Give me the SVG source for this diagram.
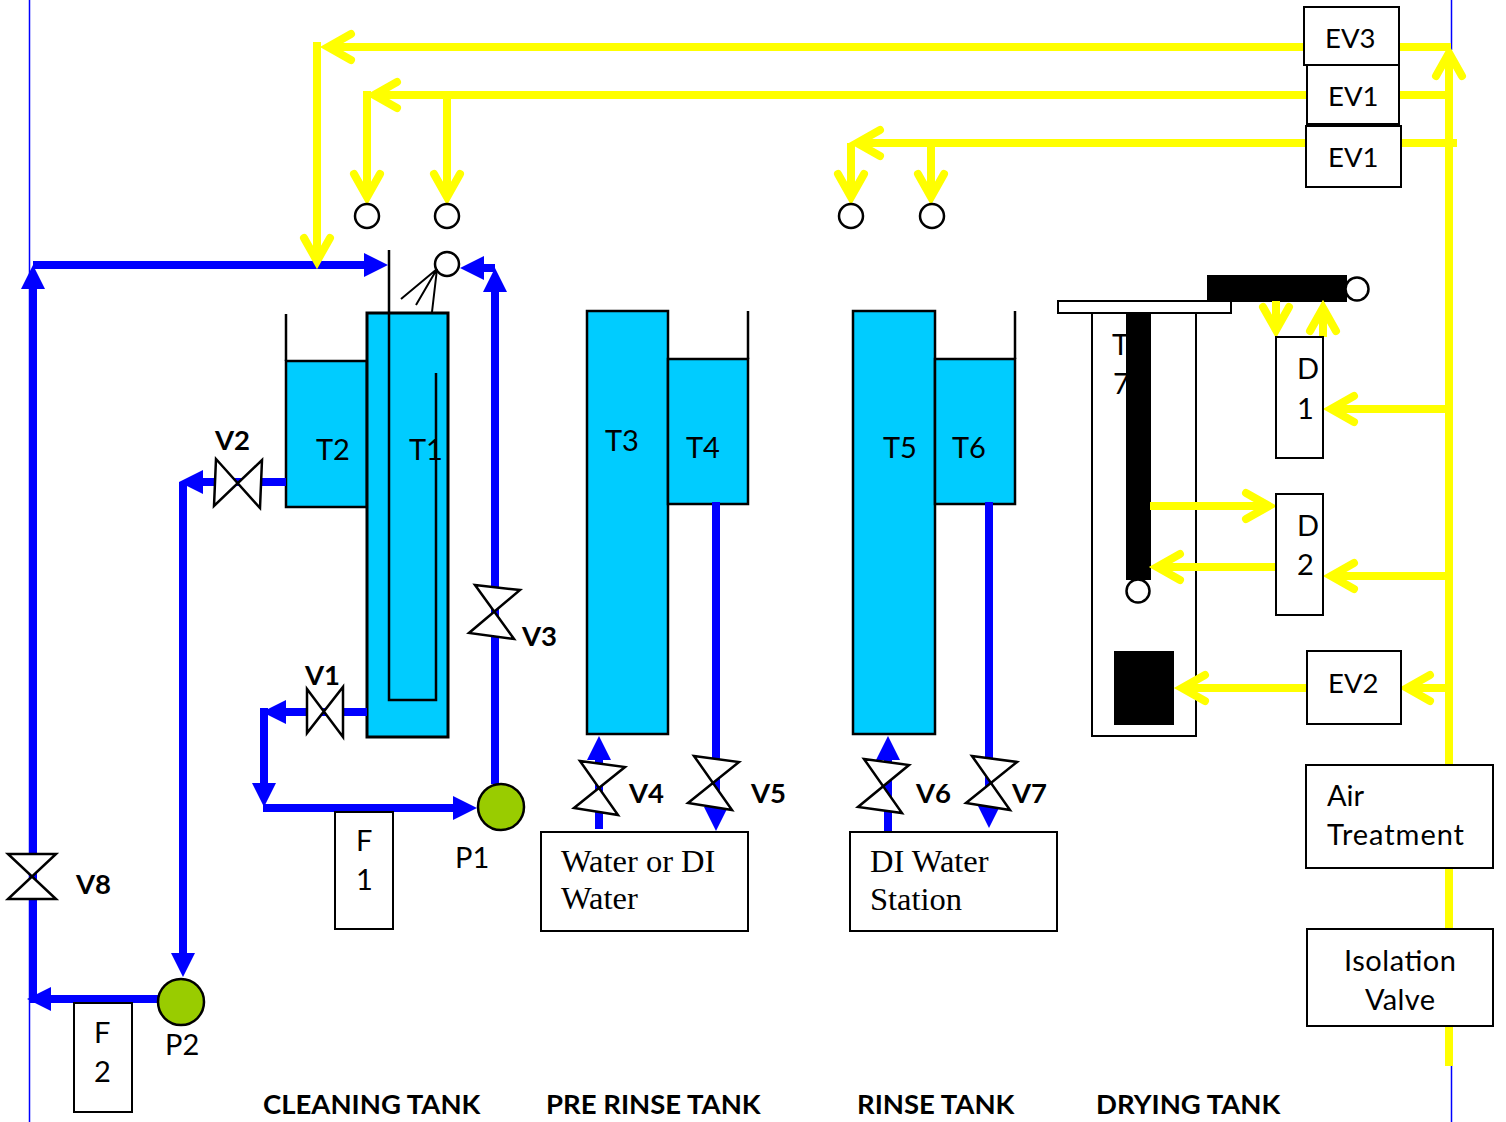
<svg xmlns="http://www.w3.org/2000/svg" width="1506" height="1122" viewBox="0 0 1506 1122">
<style>
text{font-family:"Lato","Liberation Sans",sans-serif;font-size:29px;fill:#000}
.b{font-weight:700;font-size:27.5px}
.e{font-size:27.5px}
.s{font-family:"Liberation Serif",serif;font-size:32.500px}
.box{fill:#fff;stroke:#000;stroke-width:2}
.tank{fill:#00ccff;stroke:#000;stroke-width:2.500}
.ln{fill:none;stroke:#000;stroke-width:2.500}
.bl{fill:none;stroke:#0000ff;stroke-width:8}
.yl{fill:none;stroke:#ffff00;stroke-width:8}
.noz{fill:#fff;stroke:#000;stroke-width:2.500}
.pump{fill:#99cc00;stroke:#000;stroke-width:2.500}
.valve{fill:#fff;stroke:#000;stroke-width:2.500;stroke-linejoin:miter}
</style>
<defs>
<marker id="ba" markerUnits="userSpaceOnUse" markerWidth="26" markerHeight="26" refX="12" refY="12.500" orient="auto"><path d="M0 0.500L24 12.500L0 24.500Z" fill="#0000ff"/></marker>
<marker id="ya" markerUnits="userSpaceOnUse" markerWidth="44" markerHeight="56" refX="33" refY="28" orient="auto" overflow="visible"><path d="M11 15L34 28L11 41" fill="none" stroke="#ffff00" stroke-width="8" stroke-linecap="round"/></marker>
</defs>
<g id="boundaries" fill="none" stroke="#0000ff" stroke-width="1.500">
<path d="M29.500 0V1122M1451.500 0V50M1451.500 1064V1122"/>
</g>
<g id="t2"><rect class="tank" x="286" y="361" width="81" height="146"/><path class="ln" d="M286 314V361"/><text x="316" y="460">T2</text></g>
<g id="t1"><rect class="tank" x="367" y="313" width="81" height="424" style="stroke-width:3"/><text x="409" y="460">T1</text><path class="ln" d="M389 250V700H436V373"/></g>
<g id="t3"><rect class="tank" x="587" y="311" width="81" height="423"/><text x="605" y="451">T3</text></g>
<g id="t4"><rect class="tank" x="668" y="359" width="80" height="145"/><path class="ln" d="M748 311V359"/><text x="686" y="458">T4</text></g>
<g id="t5"><rect class="tank" x="853" y="311" width="82" height="423"/><text x="883" y="458">T5</text></g>
<g id="t6"><rect class="tank" x="935" y="359" width="80" height="145"/><path class="ln" d="M1015 311V359"/><text x="952" y="458">T6</text></g>
<g id="t7"><rect class="box" x="1092" y="313" width="104" height="423"/><text x="1112" y="355">T</text><text x="1113" y="394">7</text><rect x="1126" y="313" width="25" height="267" fill="#000"/><rect x="1114" y="651" width="60" height="74" fill="#000"/><rect class="box" x="1058" y="301" width="173" height="12"/><circle class="noz" cx="1138" cy="591" r="11.500"/></g>
<g id="dryer"><rect x="1207" y="275" width="140" height="27" fill="#000"/><circle class="noz" cx="1357" cy="289" r="11.500"/></g>
<g id="connectors">
<path class="bl" marker-end="url(#ba)" d="M33 1003V277"/>
<path class="bl" marker-end="url(#ba)" d="M33 265H376"/>
<path class="bl" marker-end="url(#ba)" d="M160 999H39"/>
<path class="bl" marker-end="url(#ba)" d="M183 482V965"/>
<path class="bl" marker-end="url(#ba)" d="M286 482H191"/>
<path class="bl" marker-end="url(#ba)" d="M495 784V280"/>
<path class="bl" marker-end="url(#ba)" d="M495 268H472"/>
<path class="bl" marker-end="url(#ba)" d="M367 712H274"/>
<path class="bl" marker-end="url(#ba)" d="M264 708V795"/>
<path class="bl" marker-end="url(#ba)" d="M263 808H465"/>
<path class="bl" marker-end="url(#ba)" d="M716 502V819"/>
<path class="bl" marker-end="url(#ba)" d="M599 829V748"/>
<path class="bl" marker-end="url(#ba)" d="M888 832V748"/>
<path class="bl" marker-end="url(#ba)" d="M989 502V816"/>
<path class="yl" d="M1449 1066V52"/>
<path class="yl" marker-end="url(#ya)" d="M1449 70V54"/>
<path class="yl" d="M1398 47H1451"/>
<path class="yl" d="M1399 95H1449"/>
<path class="yl" d="M1401 143H1457"/>
<path class="yl" marker-end="url(#ya)" d="M1304 47H329"/>
<path class="yl" marker-end="url(#ya)" d="M317 42V260"/>
<path class="yl" marker-end="url(#ya)" d="M1307 95H375"/>
<path class="yl" marker-end="url(#ya)" d="M367 91V196"/>
<path class="yl" marker-end="url(#ya)" d="M447 95V196"/>
<path class="yl" marker-end="url(#ya)" d="M1307 143H858"/>
<path class="yl" marker-end="url(#ya)" d="M851 143V196"/>
<path class="yl" marker-end="url(#ya)" d="M931 143V196"/>
<path class="yl" marker-end="url(#ya)" d="M1449 409H1332"/>
<path class="yl" marker-end="url(#ya)" d="M1449 576H1332"/>
<path class="yl" marker-end="url(#ya)" d="M1449 688H1408"/>
<path class="yl" marker-end="url(#ya)" d="M1307 688H1183"/>
<path class="yl" marker-end="url(#ya)" d="M1276 301V329"/>
<path class="yl" marker-end="url(#ya)" d="M1323 337V309"/>
<path class="yl" marker-end="url(#ya)" d="M1150 506H1268"/>
<path class="yl" marker-end="url(#ya)" d="M1277 567H1158"/>
</g>
<g id="nozzles">
<circle class="noz" cx="367" cy="216" r="12"/><circle class="noz" cx="447" cy="216" r="12"/><circle class="noz" cx="851" cy="216" r="12"/><circle class="noz" cx="932" cy="216" r="12"/>
<circle class="noz" cx="447" cy="264" r="12"/>
<path class="ln" d="M401 299L437 269L416 305M437 269L432 312" style="stroke-width:2"/>
</g>
<g id="v1"><path class="valve" d="M307 689L343 737L343 687L307 733Z"/><text class="b" x="305" y="685">V1</text></g>
<g id="v2"><path class="valve" d="M216 459L260 508L262 460L214 506Z"/><text class="b" x="215" y="450">V2</text></g>
<g id="v3"><path class="valve" d="M475 585L520 590L469 633L514 639Z"/><text class="b" x="522" y="646">V3</text></g>
<g id="v4"><path class="valve" d="M580 761L625 767L574 808L618 815Z"/><text class="b" x="629" y="803">V4</text></g>
<g id="v5"><path class="valve" d="M694 756L739 762L688 803L732 810Z"/><text class="b" x="751" y="803">V5</text></g>
<g id="v6"><path class="valve" d="M864 759L909 765L858 807L902 813Z"/><text class="b" x="916" y="803">V6</text></g>
<g id="v7"><path class="valve" d="M972 756L1017 762L966 803L1010 810Z"/><text class="b" x="1012" y="803">V7</text></g>
<g id="v8"><path class="valve" d="M8 854H56L8 899H56Z"/><text class="b" x="76" y="894">V8</text></g>
<g id="f1"><rect class="box" x="335" y="812" width="58" height="117"/><text x="356" y="851">F</text><text x="356" y="890">1</text></g>
<g id="f2"><rect class="box" x="74" y="1003" width="58" height="109"/><text x="94" y="1043">F</text><text x="94" y="1082">2</text></g>
<g id="p1"><circle class="pump" cx="501" cy="807" r="23"/><text x="455" y="868">P1</text></g>
<g id="p2"><circle class="pump" cx="181" cy="1002" r="23"/><text x="165" y="1055">P2</text></g>
<g id="d1"><rect class="box" x="1276" y="337" width="47" height="121"/><text x="1297" y="379">D</text><text x="1297" y="419">1</text></g>
<g id="d2"><rect class="box" x="1276" y="494" width="47" height="121"/><text x="1297" y="536">D</text><text x="1297" y="575">2</text></g>
<g id="ev3"><rect class="box" x="1304" y="7" width="95" height="58"/><text class="e" x="1325" y="48">EV3</text></g>
<g id="ev1a"><rect class="box" x="1307" y="65" width="92" height="59"/><text class="e" x="1328" y="106">EV1</text></g>
<g id="ev1b"><rect class="box" x="1306" y="126" width="95" height="61"/><text class="e" x="1328" y="167">EV1</text></g>
<g id="ev2"><rect class="box" x="1307" y="651" width="94" height="73"/><text class="e" x="1328" y="693">EV2</text></g>
<g id="air"><rect class="box" x="1306" y="765" width="187" height="103"/><text x="1327" y="806">Air</text><text x="1327" y="845" textLength="137">Treatment</text></g>
<g id="iso"><rect class="box" x="1307" y="929" width="186" height="97"/><text x="1344" y="971" textLength="112">Isolation</text><text x="1365" y="1010" textLength="70">Valve</text></g>
<g id="water"><rect class="box" x="541" y="832" width="207" height="99"/><text class="s" x="561" y="872">Water or DI</text><text class="s" x="561" y="909">Water</text></g>
<g id="di"><rect class="box" x="850" y="832" width="207" height="99"/><text class="s" x="870" y="872">DI Water</text><text class="s" x="870" y="910">Station</text></g>
<g id="titles">
<text class="b" x="263" y="1114">CLEANING TANK</text>
<text class="b" x="546" y="1114">PRE RINSE TANK</text>
<text class="b" x="857" y="1114">RINSE TANK</text>
<text class="b" x="1096" y="1114">DRYING TANK</text>
</g>
</svg>
